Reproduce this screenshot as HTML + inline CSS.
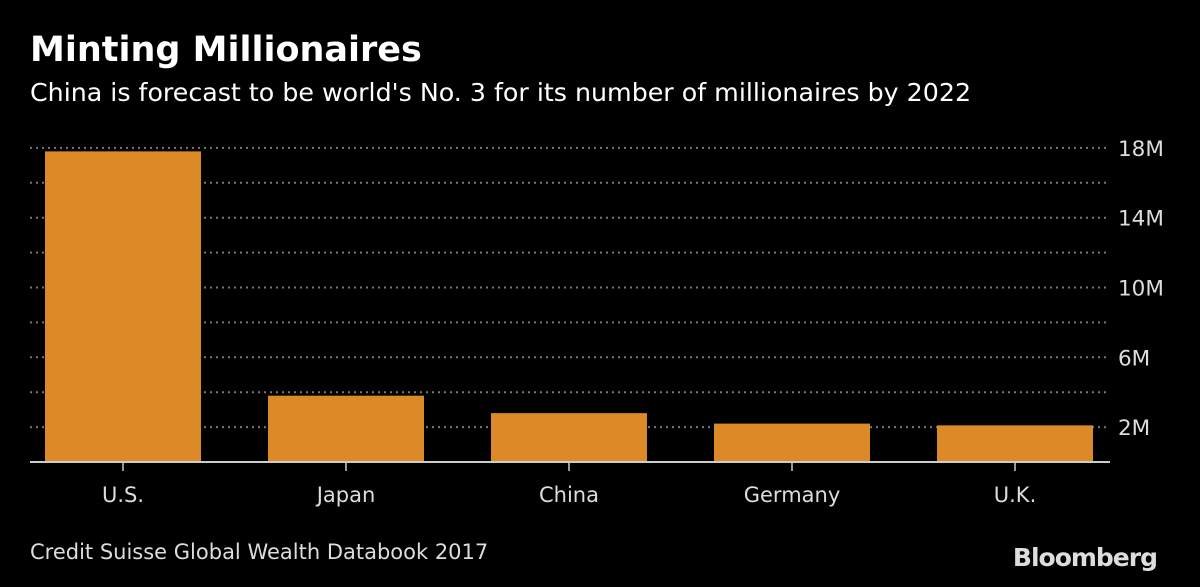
<!DOCTYPE html>
<html><head><meta charset="utf-8"><style>
html,body{margin:0;padding:0;background:#000;width:1200px;height:587px;overflow:hidden}
svg{display:block}
text{font-family:"DejaVu Sans","Liberation Sans",sans-serif}
</style></head><body>
<svg id="chart" width="1200" height="587">
<text x="30" y="61" fill="#fff" font-size="35" font-weight="bold" font-family="Liberation Sans, sans-serif">Minting Millionaires</text>
<text x="30" y="101" fill="#fff" font-size="25.3">China is forecast to be world's No. 3 for its number of millionaires by 2022</text>
<text x="30" y="559" fill="#ddd" font-size="21">Credit Suisse Global Wealth Databook 2017</text>
<text x="1157" y="566" fill="#ddd" font-size="25" font-weight="bold" text-anchor="end" font-family="Liberation Sans, sans-serif" letter-spacing="-1">Bloomberg</text>
<g id="grid"></g><g id="bars"></g><g id="axes"></g>
</svg>
<script>
const categories = ["U.S.", "Japan", "China", "Germany", "U.K."];
const values = [17.8, 3.8, 2.8, 2.2, 2.1];
const gridValues = [2, 4, 6, 8, 10, 12, 14, 16, 18];
const tickLabels = ["2M", "6M", "10M", "14M", "18M"];
const tickValues = [2, 6, 10, 14, 18];

const NS = "http://www.w3.org/2000/svg";
const y0 = 462, pxPerM = 17.45, x0 = 30, x1 = 1110;
const step = 223, barW = 156, firstX = 45;
const yScale = v => y0 - v * pxPerM;
const xBand = i => firstX + i * step;
function mk(tag, attrs, parent){const e=document.createElementNS(NS,tag);for(const k in attrs)e.setAttribute(k,attrs[k]);parent.appendChild(e);return e;}
const grid=document.getElementById('grid'),bars=document.getElementById('bars'),axes=document.getElementById('axes');
gridValues.forEach(v=>{
  const l=mk('line',{x1:x0,x2:x1,y1:yScale(v),y2:yScale(v),stroke:'#777','stroke-width':2,'stroke-dasharray':'2 4'},grid);
  
  
});
tickValues.forEach((v,i)=>{
  const t=mk('text',{x:1118,y:yScale(v)+8,fill:'#ddd','font-size':21.5},axes);
  t.textContent=tickLabels[i];
  
  
});
values.forEach((v,i)=>{
  const r=mk('rect',{x:xBand(i),y:yScale(v),width:barW,height:y0-yScale(v),fill:'#dc8a27'},bars);
  
  
  const cx=xBand(i)+barW/2;
  const tk=mk('line',{x1:cx,x2:cx,y1:y0,y2:y0+9,stroke:'#ccc','stroke-width':1.5},axes);
  
  
  const t=mk('text',{x:cx,y:502,fill:'#ddd','font-size':21,'text-anchor':'middle'},axes);
  t.textContent=categories[i];
  
  
});
const base=mk('line',{x1:x0,x2:x1,y1:y0,y2:y0,stroke:'#ccc','stroke-width':2},axes);


</script>
</body></html>
